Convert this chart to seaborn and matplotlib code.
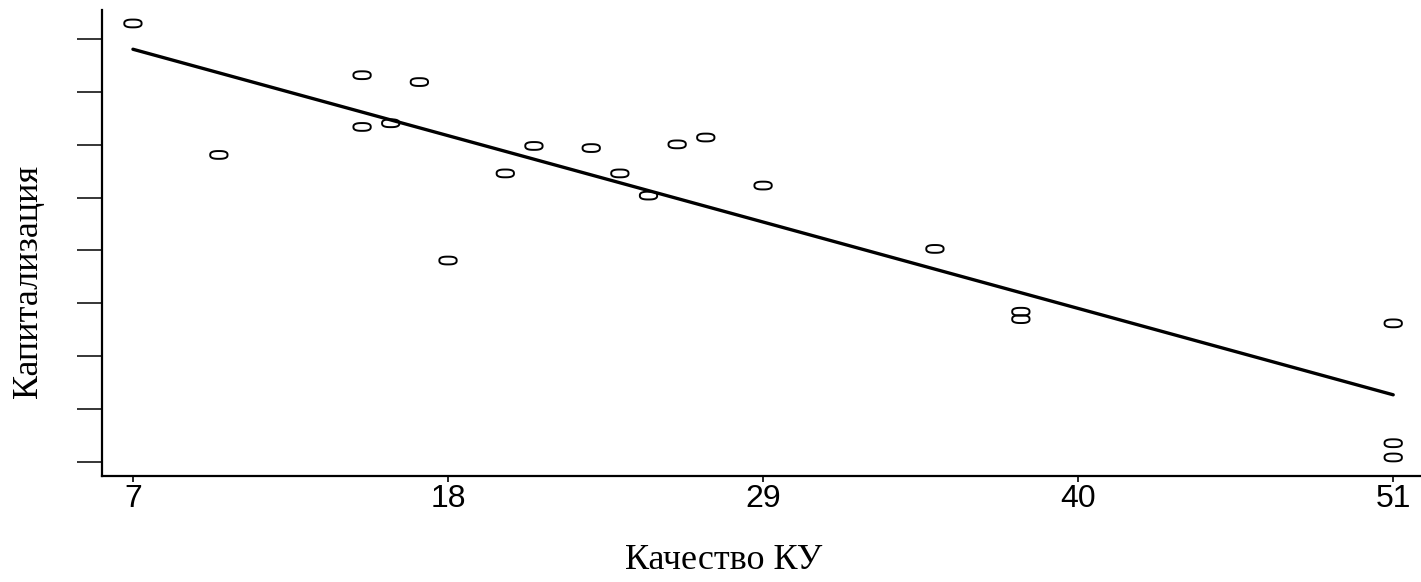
import numpy as np
import pandas as pd
import matplotlib
matplotlib.use("Agg")
import matplotlib.pyplot as plt
from matplotlib.path import Path
import seaborn as sns

# ---- data ----
quality = [7, 10, 15, 15, 16, 17, 18, 20, 21, 23, 24, 25, 26, 27, 29, 35, 38, 38, 51, 51, 51]
capital = [9.30, 6.81, 8.32, 7.34, 7.41, 8.19, 4.81, 6.46, 6.98, 6.94, 6.46, 6.04,
           7.01, 7.14, 6.23, 5.03, 3.84, 3.70, 3.62, 1.35, 1.08]
x_ticks = [7, 18, 29, 40, 51]
y_ticks = [1, 2, 3, 4, 5, 6, 7, 8, 9]
x_label = "Качество КУ"
y_label = "Капитализация"

df = pd.DataFrame({"q": quality, "c": capital})

sns.set_style("ticks")
plt.rcParams["font.family"] = ["Liberation Sans", "DejaVu Sans"]

fig = plt.figure(figsize=(14.21, 5.82), dpi=100)
ax = fig.add_axes([102 / 1421, 1 - 476 / 582, 1 - 102 / 1421, (476 - 10) / 582])

# slightly boxy open elliptical marker (superellipse)
t = np.linspace(0, 2 * np.pi, 120)
px = np.sign(np.cos(t)) * np.abs(np.cos(t)) ** 0.75
py = 0.45 * np.sign(np.sin(t)) * np.abs(np.sin(t)) ** 0.75
mk = Path(np.column_stack([px, py]), closed=True)

sns.regplot(data=df, x="q", y="c", ax=ax, ci=None, color="black", marker=mk,
            scatter_kws=dict(s=155, facecolors="none", edgecolors="black",
                             linewidths=1.4, alpha=1),
            line_kws=dict(color="black", lw=2.4))

ax.set_xlim(5.92, 51.97)
ax.set_ylim(0.729, 9.555)
ax.set_xticks(x_ticks)
ax.set_xticklabels([str(v) for v in x_ticks])
ax.set_yticks(y_ticks)
ax.set_yticklabels([])

for s in ["top", "right"]:
    ax.spines[s].set_visible(False)
for s in ["left", "bottom"]:
    ax.spines[s].set_linewidth(1.6)
    ax.spines[s].set_color("black")

ax.tick_params(axis="y", direction="out", length=18, width=1.1, color="black")
ax.tick_params(axis="x", direction="out", length=4.5, width=1.2, color="black",
               labelsize=23, pad=1, labelcolor="black")

ax.set_xlabel(x_label, family=["Liberation Serif", "DejaVu Serif"], fontsize=26,
              va="center", color="black")
ax.xaxis.set_label_coords(0.471, -0.182)
ax.set_ylabel(y_label, family=["Liberation Serif", "DejaVu Serif"], fontsize=26,
              va="center", color="black")
ax.yaxis.set_label_coords(-0.0561, 0.418)

ax.set_facecolor("white")
fig.patch.set_facecolor("white")
fig.savefig("out.png", dpi=100)
